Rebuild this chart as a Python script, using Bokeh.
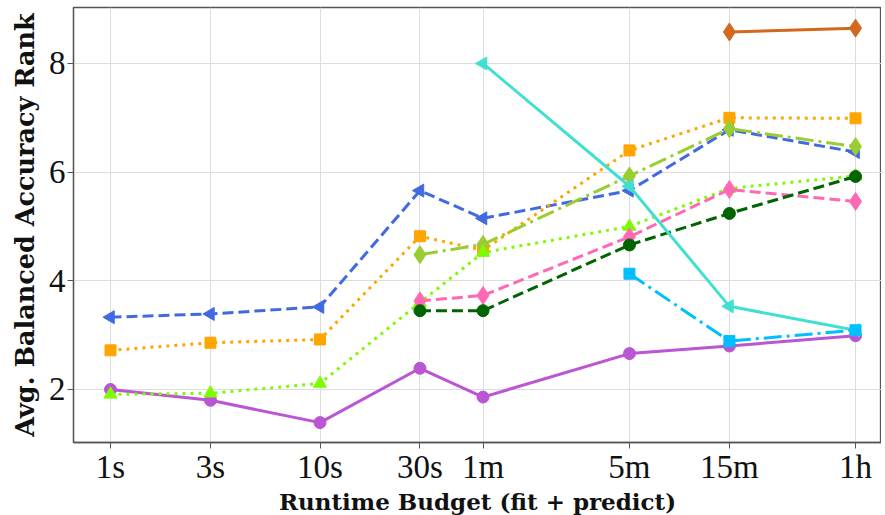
import math
from bokeh.plotting import figure
from bokeh.models import FixedTicker, Range1d
from bokeh.embed import file_html
from bokeh.resources import INLINE

nan = float("nan")

budgets_s = [1, 3, 10, 30, 60, 300, 900, 3600]
budget_labels = ["1s", "3s", "10s", "30s", "1m", "5m", "15m", "1h"]

purple_vals = [2.00, 1.80, 1.39, 2.39, 1.86, 2.66, 2.80, 2.99]
royalblue_vals = [3.33, 3.39, 3.52, 5.66, 5.15, 5.66, 6.78, 6.37]
orange_vals = [2.72, 2.86, 2.92, 4.82, 4.56, 6.40, 7.00, 6.99]
yellowgreen_vals = [nan, nan, nan, 4.48, 4.67, 5.93, 6.80, 6.47]
lawngreen_vals = [1.91, 1.93, 2.11, 3.60, 4.52, 5.00, 5.70, 5.93]
hotpink_vals = [nan, nan, nan, 3.63, 3.73, 4.81, 5.68, 5.46]
darkgreen_vals = [nan, nan, nan, 3.45, 3.45, 4.66, 5.24, 5.92]
turquoise_vals = [nan, nan, nan, nan, 8.00, 5.74, 3.53, 3.09]
deepskyblue_vals = [nan, nan, nan, nan, nan, 4.13, 2.89, 3.09]
chocolate_vals = [nan, nan, nan, nan, nan, nan, 8.58, 8.65]

# (values, color, dash, marker, marker angle, marker size)
series = [
    (purple_vals, "#BA55D3", "solid", "circle", 0, 12),
    (royalblue_vals, "#4169E1", "11 5", "triangle", math.pi / 2, 13),
    (orange_vals, "#FFA500", "3 5", "square", 0, 11),
    (yellowgreen_vals, "#9ACD32", "18 5 3 5", "diamond", 0, 18),
    (lawngreen_vals, "#7CFC00", "3 5", "triangle", 0, 13),
    (hotpink_vals, "#FF69B4", "11 5", "diamond", 0, 18),
    (darkgreen_vals, "#006400", "11 5", "circle", 0, 12),
    (turquoise_vals, "#40E0D0", "solid", "triangle", math.pi / 2, 13),
    (deepskyblue_vals, "#00BFFF", "18 5 3 5", "square", 0, 11),
    (chocolate_vals, "#D2691E", "solid", "diamond", 0, 18),
]

FRAME_W = 808
# keep 1s tick at 37px from the left frame edge and 209.5px per decade
x_start = 10 ** (-37 / 209.5)
x_end = 10 ** ((FRAME_W - 37) / 209.5)

p = figure(
    x_axis_type="log",
    frame_width=FRAME_W,
    frame_height=435,
    min_border_left=73,
    min_border_right=0,
    min_border_top=7,
    min_border_bottom=0,
    output_backend="svg",
    toolbar_location=None,
    x_range=Range1d(x_start, x_end),
    y_range=Range1d(1.024, 9.03),
)

for vals, color, dash, marker, ang, size in series:
    p.line(budgets_s, vals, line_color=color, line_width=3, line_dash=dash)
    xs = [b for b, v in zip(budgets_s, vals) if not math.isnan(v)]
    ys = [v for v in vals if not math.isnan(v)]
    p.scatter(xs, ys, marker=marker, angle=ang, size=size,
              fill_color=color, line_color=color, line_width=1)

p.xaxis.ticker = FixedTicker(ticks=budgets_s, minor_ticks=[])
p.xaxis.major_label_overrides = {b: l for b, l in zip(budgets_s, budget_labels)}
p.yaxis.ticker = FixedTicker(ticks=[2, 4, 6, 8], minor_ticks=[])

p.xaxis.axis_label = "Runtime Budget (fit + predict)"
p.yaxis.axis_label = "Avg. Balanced Accuracy Rank"

for ax in (p.xaxis, p.yaxis):
    ax.major_label_text_font = "Liberation Serif"
    ax.major_label_text_font_size = "33px"
    ax.major_label_text_color = "#111111"
    ax.axis_label_text_font = "DejaVu Serif"
    ax.axis_label_text_font_style = "bold"
    ax.axis_label_text_color = "#111111"
    ax.axis_line_color = "#555555"
    ax.axis_line_width = 1.3
    ax.major_tick_line_color = "#555555"
    ax.major_tick_out = 6
    ax.major_tick_in = 0
    ax.minor_tick_line_color = None

p.xaxis.axis_label_text_font_size = "23px"
p.yaxis.axis_label_text_font_size = "25.5px"
p.xaxis.major_label_standoff = 0
p.xaxis.axis_label_standoff = 0
p.yaxis.major_label_standoff = 2
p.yaxis.axis_label_standoff = 6

p.xgrid.ticker = FixedTicker(ticks=budgets_s)
p.grid.grid_line_color = "#dddddd"
p.grid.grid_line_width = 1
p.outline_line_color = "#555555"
p.outline_line_width = 1.3
p.background_fill_color = "white"
p.border_fill_color = "white"

open("out.html", "w").write(file_html(p, INLINE))
